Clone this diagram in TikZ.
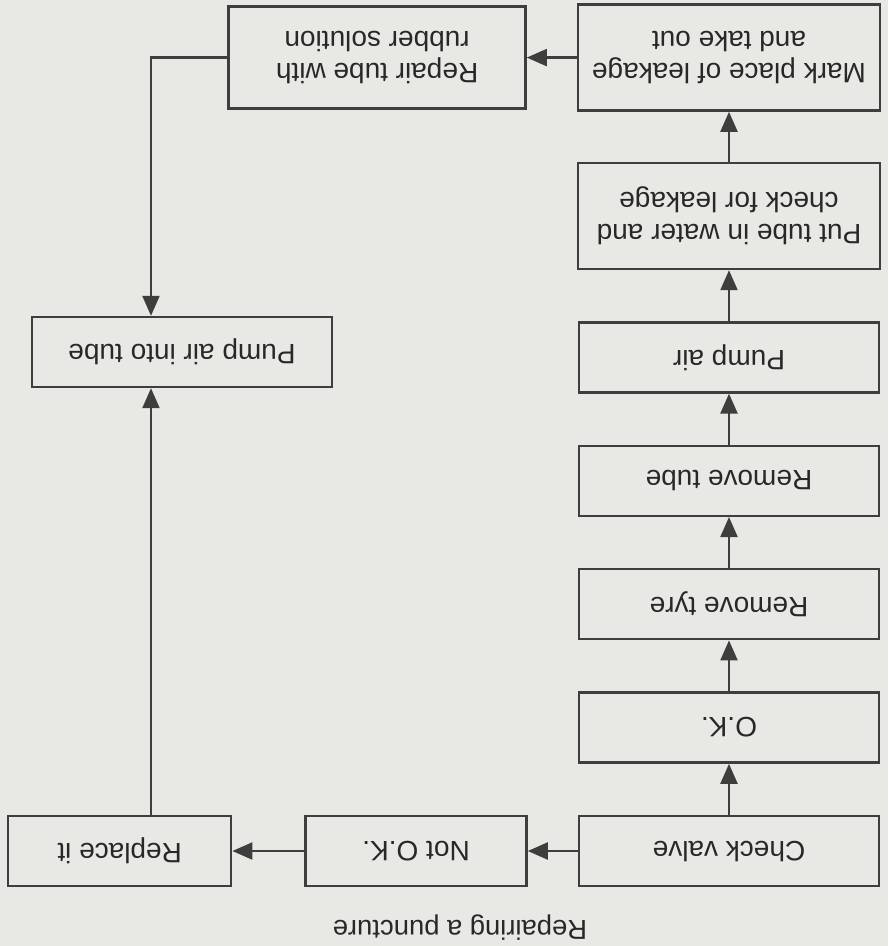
\documentclass[tikz,border=0pt]{standalone}
\usepackage{fontspec}
\setmainfont{Liberation Sans}
\usetikzlibrary{arrows.meta,positioning}
\definecolor{paper}{RGB}{232,232,229}
\definecolor{ink}{RGB}{62,62,62}
\definecolor{textgray}{RGB}{40,40,40}

\begin{document}
\begin{tikzpicture}[
    x=0.5pt, y=0.5pt, rotate=180, transform shape,
    node distance=25.5pt,
    box/.style={rectangle, draw=ink, line width=1.2pt, text=textgray, minimum width=150pt, minimum height=35pt, align=center, font=\fontsize{14}{16}\selectfont},
    tallbox/.style={box, minimum width=151pt, minimum height=53pt},
    arr/.style={-{Triangle[length=10pt,width=8.5pt]}, draw=ink, line width=1.1pt}
]
    % Paper
    \fill[paper] (0,0) rectangle (888,946);
    \useasboundingbox (0,0) rectangle (888,946);

    % Caption
    \node[text=textgray, font=\fontsize{13.7}{16}\selectfont] (title) at (428,928) {Repairing a puncture};

    % Main column
    \node[box] (checkv) at (159,851) {Check valve};
    \node[box, below=of checkv] (ok) {O.K.};
    \node[box, below=of ok] (tyre) {Remove tyre};
    \node[box, below=of tyre] (tube) {Remove tube};
    \node[box, below=of tube] (pumpair) {Pump air};
    \node[tallbox, below=of pumpair] (water) {Put tube in water and\\check for leakage};
    \node[tallbox, below=25pt of water] (mark) {Mark place of leakage\\and take out};

    % Faulty valve
    \node[box, minimum width=110.5pt, right=25pt of checkv] (notok) {Not O.K.};
    \node[box, minimum width=111.5pt, right=36pt of notok] (replace) {Replace it};

    % Repair
    \node[box, minimum width=148.5pt, minimum height=51pt, right=25pt of mark] (repair) {Repair tube with\\rubber solution};
    \node[box] (pumptube) at (706,352) {Pump air into tube};
    \coordinate (bend) at (737,0);

    % Edges
    \foreach \a/\b in {checkv/ok, ok/tyre, tyre/tube, tube/pumpair, pumpair/water, water/mark}
        \draw[arr] (\a) -- (\b);
    \draw[arr] (checkv) -- (notok);
    \draw[arr] (notok) -- (replace);
    \draw[arr] (mark) -- (repair);
    \draw[arr] (replace.south -| bend) -- (pumptube.north -| bend);
    \draw[arr] (repair.east) -| (pumptube.south -| bend);
\end{tikzpicture}
\end{document}
